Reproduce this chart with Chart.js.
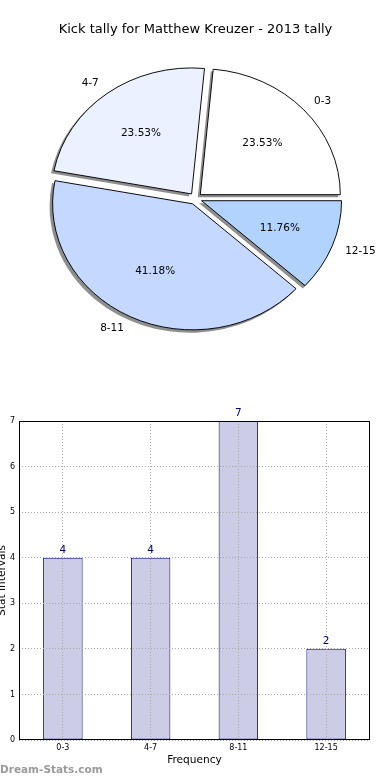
<!DOCTYPE html>
<html>
<head>
<meta charset="utf-8">
<script src="https://cdn.jsdelivr.net/npm/chart.js@4.4.0/dist/chart.umd.min.js"></script>
<style>
    html, body { margin: 0; padding: 0; background: #fff; }
    #wrap { position: relative; width: 390px; height: 780px; overflow: hidden; }
    #pie-box { position: absolute; left: 0; top: 0; width: 390px; height: 370px; }
    #bar-box { position: absolute; left: 0; top: 370px; width: 390px; height: 410px; }
</style>
</head>
<body>
<div id="wrap">
    <div id="pie-box"><canvas id="pie-chart"></canvas></div>
    <div id="bar-box"><canvas id="bar-chart"></canvas></div>
</div>
<script>
const titleText = 'Kick tally for Matthew Kreuzer - 2013 tally';
const categories = ['0-3', '4-7', '8-11', '12-15'];
const kickCounts = [4, 4, 7, 2];
const sliceColors = ['#ffffff', '#ebf1ff', '#c5d8ff', '#b3d3ff'];
const yTicks = [0, 1, 2, 3, 4, 5, 6, 7];
const xAxisTitle = 'Frequency';
const yAxisTitle = 'Stat Intervals';
const watermark = 'Dream-Stats.com';

const FONT = 'DejaVu Sans';
const SQUISH = 0.9;            // the original pie is a bit flattened
const EXPLODE = 6.5;           // px each wedge is pulled out
const pieOrder = [3, 2, 1, 0]; // chart.js goes clockwise, the original counter-clockwise

// screen shift of an exploded wedge
function wedgeShift(arc) {
    const mid = (arc.startAngle + arc.endAngle) / 2;
    return { mid: mid, dx: Math.cos(mid) * EXPLODE, dy: Math.sin(mid) * EXPLODE * SQUISH };
}

function squish(ctx, cy) {
    ctx.translate(0, cy);
    ctx.scale(1, SQUISH);
    ctx.translate(0, -cy);
}

// Pie: shadow, flattened exploded wedges, labels
const pieLook = {
    id: 'pieLook',
    beforeDatasetsDraw(chart) {
        const ctx = chart.ctx;
        const arcs = chart.getDatasetMeta(0).data;

        // shadow under each wedge
        arcs.forEach(arc => {
            const s = wedgeShift(arc);
            ctx.save();
            ctx.translate(s.dx - 2.5, s.dy + 2.5);
            squish(ctx, arc.y);
            ctx.fillStyle = 'rgba(50, 50, 50, 0.55)';
            ctx.beginPath();
            ctx.moveTo(arc.x, arc.y);
            ctx.arc(arc.x, arc.y, arc.outerRadius + 0.5, arc.startAngle, arc.endAngle);
            ctx.closePath();
            ctx.fill();
            ctx.restore();
        });

        // the wedges themselves
        arcs.forEach(arc => {
            const s = wedgeShift(arc);
            ctx.save();
            ctx.translate(s.dx, s.dy);
            squish(ctx, arc.y);
            arc.draw(ctx);
            ctx.restore();
        });
        return false;
    },
    afterDraw(chart) {
        const ctx = chart.ctx;
        const total = kickCounts.reduce((a, b) => a + b, 0);
        ctx.save();
        ctx.font = `10.5px "${FONT}"`;
        ctx.fillStyle = '#000';
        ctx.textBaseline = 'middle';
        chart.getDatasetMeta(0).data.forEach((arc, k) => {
            const i = pieOrder[k];
            const s = wedgeShift(arc);
            const r = arc.outerRadius;
            const cx = arc.x + s.dx;
            const cy = arc.y + s.dy;
            const c = Math.cos(s.mid), n = Math.sin(s.mid);
            const pct = (kickCounts[i] / total * 100).toFixed(2) + '%';

            ctx.textAlign = 'center';
            ctx.fillText(pct, cx + c * 0.6 * r, cy + n * 0.6 * r * SQUISH);

            ctx.textAlign = c >= 0 ? 'left' : 'right';
            ctx.fillText(categories[i], cx + c * 1.1 * r, cy + n * 1.1 * r * SQUISH);
        });
        ctx.restore();
    }
};

new Chart(document.getElementById('pie-chart'), {
    type: 'pie',
    data: {
        labels: pieOrder.map(i => categories[i]),
        datasets: [{
            data: pieOrder.map(i => kickCounts[i]),
            backgroundColor: pieOrder.map(i => sliceColors[i]),
            borderColor: '#000',
            borderWidth: 1,
            clip: false
        }]
    },
    options: {
        responsive: true,
        maintainAspectRatio: false,
        animation: false,
        rotation: 90,
        radius: 140,
        layout: { padding: { left: 1, right: 0, top: 0, bottom: 10.4 } },
        plugins: {
            legend: { display: false },
            tooltip: { enabled: false },
            title: {
                display: true,
                text: titleText,
                color: '#000',
                font: { family: FONT, size: 13, weight: 'normal' },
                padding: { top: 22, bottom: 0 }
            }
        }
    },
    plugins: [pieLook]
});

// Bars: frame, value labels, watermark
const barLook = {
    id: 'barLook',
    afterDraw(chart) {
        const { ctx, chartArea: a } = chart;
        ctx.save();
        ctx.strokeStyle = '#000';
        ctx.lineWidth = 1;
        const l = Math.round(a.left) + 0.5, t = Math.round(a.top) + 0.5;
        const r = Math.round(a.right) - 0.5, b = Math.round(a.bottom) - 0.5;
        ctx.strokeRect(l, t, r - l, b - t);

        ctx.fillStyle = '#000080';
        ctx.font = `10.5px "${FONT}"`;
        ctx.textAlign = 'center';
        ctx.textBaseline = 'alphabetic';
        chart.getDatasetMeta(0).data.forEach((bar, i) => {
            ctx.fillText(String(kickCounts[i]), bar.x, bar.y - 5);
        });

        ctx.fillStyle = '#9a9a9a';
        ctx.font = `bold 10.5px "${FONT}"`;
        ctx.textAlign = 'left';
        ctx.textBaseline = 'middle';
        ctx.fillText(watermark, 0, 400);
        ctx.restore();
    }
};

const gridStyle = { offset: false, z: 1, color: '#a8a8a8', lineWidth: 1, drawTicks: false };
const tickFont = { family: FONT, size: 8 };

new Chart(document.getElementById('bar-chart'), {
    type: 'bar',
    data: {
        labels: categories,
        datasets: [{
            data: kickCounts,
            backgroundColor: '#ccccE6',
            borderColor: '#000080',
            borderWidth: 1,
            borderSkipped: false,
            barPercentage: 0.45,
            categoryPercentage: 1.0
        }]
    },
    options: {
        responsive: true,
        maintainAspectRatio: false,
        animation: false,
        layout: { padding: { left: 0, right: 20, top: 51, bottom: 0 } },
        plugins: {
            legend: { display: false },
            tooltip: { enabled: false }
        },
        scales: {
            x: {
                offset: true,
                grid: gridStyle,
                border: { display: false, dash: [1, 2] },
                ticks: { color: '#000', font: tickFont, padding: 3.5, maxRotation: 0, autoSkip: false },
                title: {
                    display: true,
                    text: xAxisTitle,
                    color: '#000',
                    font: { family: FONT, size: 10.6 },
                    padding: { top: 0, bottom: 13 }
                },
                afterFit(scale) { scale.height = 40; }
            },
            y: {
                min: 0,
                max: 7,
                afterBuildTicks(scale) { scale.ticks = yTicks.map(v => ({ value: v })); },
                grid: gridStyle,
                border: { display: false, dash: [1, 2] },
                ticks: { color: '#000', font: tickFont, padding: 4 },
                title: {
                    display: true,
                    text: yAxisTitle,
                    color: '#000',
                    font: { family: FONT, size: 10.6 },
                    padding: { top: -4, bottom: 0 }
                },
                afterFit(scale) { scale.width = 19; }
            }
        }
    },
    plugins: [barLook]
});
</script>
</body>
</html>
